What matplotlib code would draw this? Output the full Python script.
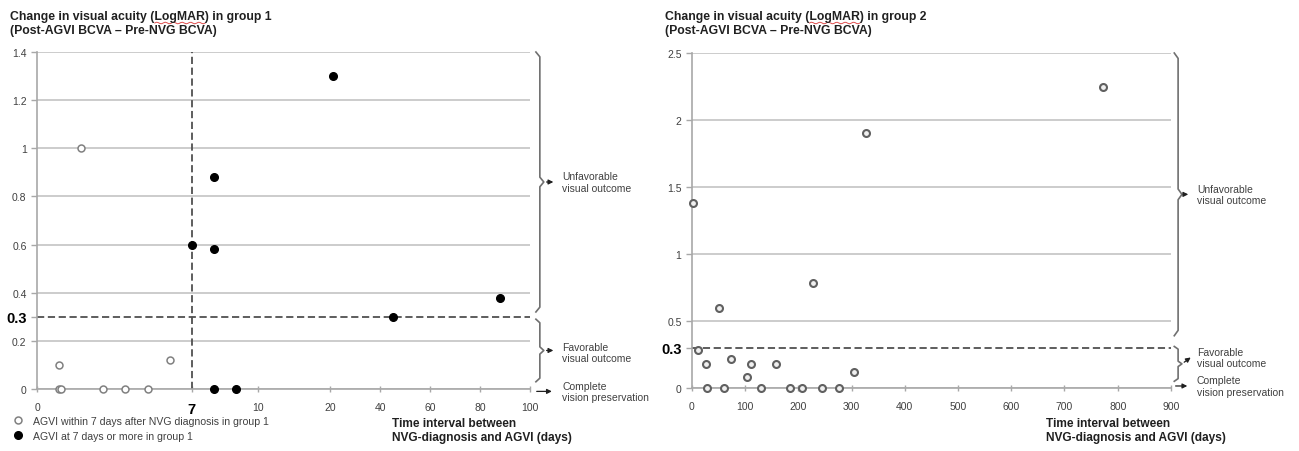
import numpy as np
import matplotlib.pyplot as plt
from matplotlib.transforms import blended_transform_factory

plt.rcParams['font.family'] = ['Liberation Sans', 'DejaVu Sans']

# group 1 (left panel): days from NVG diagnosis to AGVI, change in LogMAR
g1_early_days = [1, 1, 1.1, 2, 3, 4, 5, 6]
g1_early_va = [0.1, 0, 0, 1.0, 0, 0, 0, 0.12]
g1_late_days = [7, 8, 8, 8, 9, 21, 45, 88]
g1_late_va = [0.6, 0.88, 0.58, 0, 0, 1.3, 0.3, 0.38]

# group 2 (right panel)
g2_days = [2, 12, 26, 28, 51, 60, 73, 103, 110, 129, 157, 185, 207, 228, 245, 277, 305, 327, 773]
g2_va = [1.38, 0.28, 0.18, 0, 0.6, 0, 0.22, 0.08, 0.18, 0, 0.18, 0, 0, 0.78, 0, 0, 0.12, 1.9, 2.25]

g1_xticks = [0, 7, 10, 20, 40, 60, 80, 100]
g1_yticks = [0, 0.2, 0.3, 0.4, 0.6, 0.8, 1.0, 1.2, 1.4]
g1_ylabels = ['0', '0.2', '0.3', '0.4', '0.6', '0.8', '1', '1.2', '1.4']
g2_xticks = [0, 100, 200, 300, 400, 500, 600, 700, 800, 900]
g2_yticks = [0, 0.3, 0.5, 1.0, 1.5, 2.0, 2.5]
g2_ylabels = ['0', '0.3', '0.5', '1', '1.5', '2', '2.5']
cutoff = 0.3

# broken x axis of group 1: 0-10 wide, 10-20 squeezed, 20-100 compressed
x_break = [0, 10, 20, 100]
x_pos = [0, 10, 13.26, 22.31]
def fwd(v):
    return np.interp(v, x_break, x_pos)
def inv(v):
    return np.interp(v, x_pos, x_break)

GRID = '#c8c8c8'
TXT = '#404040'

fig = plt.figure(figsize=(12.99, 4.52), dpi=100)
ax1 = fig.add_axes([0.0285, 0.1372, 0.3795, 0.7455])
ax2 = fig.add_axes([0.5327, 0.1394, 0.3687, 0.7411])


def style(ax, yticks, ylabels):
    ax.set_yticks(yticks, ylabels)
    ax.grid(axis='y', color=GRID, lw=1.3)
    ax.set_axisbelow(True)
    for s in ['top', 'right']:
        ax.spines[s].set_visible(False)
    for s in ['left', 'bottom']:
        ax.spines[s].set_color('#a8a8a8')
        ax.spines[s].set_linewidth(1.2)
    ax.tick_params(colors='#a8a8a8', labelcolor=TXT, labelsize=7.5, length=4, width=1)
    ax.tick_params(axis='x', direction='inout', length=5, pad=7)
    # 0.3 label stands out, no gridline there
    i = yticks.index(cutoff)
    ax.get_ygridlines()[i].set_visible(False)
    lab = ax.get_yticklabels()[i]
    lab.set_fontweight('bold')
    lab.set_fontsize(10.5)
    lab.set_color('black')
    ax.axhline(cutoff, color='#505050', lw=1.3, ls=(0, (4, 2)), zorder=2)


def brace(ax, x, y0, y1, dy, text, tx, ty=None, arrow_to=None):
    tr = blended_transform_factory(ax.transAxes, ax.transData)
    ym = (y0 + y1) / 2
    w = 0.008
    xs = [x - w, x, x, x + w, x, x, x - w]
    ys = [y1, y1 - dy, ym + dy, ym, ym - dy, y0 + dy, y0]
    ax.plot(xs, ys, transform=tr, color='#707070', lw=1.2, clip_on=False)
    if arrow_to is None:
        arrow_to = (tx - 0.012, ym)
    ax.annotate('', xy=arrow_to, xytext=(x + w, ym), xycoords=tr, textcoords=tr,
                arrowprops=dict(arrowstyle='-|>', color='#202020', lw=0.9, mutation_scale=7))
    ax.text(tx, ym if ty is None else ty, text, transform=tr, ha='left', va='center',
            fontsize=7.5, color=TXT, linespacing=1.15)


def plain_arrow(ax, x0, x1, y, text, tx):
    tr = blended_transform_factory(ax.transAxes, ax.transData)
    ax.annotate('', xy=(x1, y), xytext=(x0, y), xycoords=tr, textcoords=tr,
                arrowprops=dict(arrowstyle='-|>', color='#202020', lw=0.9, mutation_scale=7))
    ax.text(tx, y, text, transform=tr, ha='left', va='center',
            fontsize=7.5, color=TXT, linespacing=1.15)


# ---- left panel
ax1.set_xscale('function', functions=(fwd, inv))
ax1.set_xlim(0, 100)
ax1.set_ylim(0, 1.4)
ax1.set_xticks(g1_xticks, [str(t) for t in g1_xticks])
ax1.minorticks_off()
style(ax1, g1_yticks, g1_ylabels)
l7 = ax1.get_xticklabels()[1]
l7.set_fontweight('bold')
l7.set_fontsize(10.5)
l7.set_color('black')
ax1.axvline(7, color='#505050', lw=1.3, ls=(0, (4, 2)), zorder=2)

h_early, = ax1.plot(g1_early_days, g1_early_va, 'o', ms=5, mfc='white', mec='#808080',
                    mew=1.1, clip_on=False, zorder=4)
h_late, = ax1.plot(g1_late_days, g1_late_va, 'o', ms=5.5, mfc='black', mec='black',
                   clip_on=False, zorder=4)

brace(ax1, 1.02, 0.32, 1.4, 0.02, 'Unfavorable\nvisual outcome', 1.065)
brace(ax1, 1.02, 0.03, 0.29, 0.015, 'Favorable\nvisual outcome', 1.065, ty=0.15)
plain_arrow(ax1, 1.008, 1.05, -0.01, 'Complete\nvision preservation', 1.065)

# ---- right panel
ax2.set_xlim(0, 900)
ax2.set_ylim(0, 2.5)
ax2.set_xticks(g2_xticks)
style(ax2, g2_yticks, g2_ylabels)
ax2.plot(g2_days, g2_va, 'o', ms=5, mfc='#f0f0f0', mec='#606060', mew=1.5,
         clip_on=False, zorder=4)

brace(ax2, 1.015, 0.39, 2.5, 0.04, 'Unfavorable\nvisual outcome', 1.054)
brace(ax2, 1.015, 0.05, 0.31, 0.02, 'Favorable\nvisual outcome', 1.054, ty=0.23,
      arrow_to=(1.046, 0.24))
plain_arrow(ax2, 1.004, 1.04, 0.015, 'Complete\nvision preservation', 1.054)

# ---- titles, axis captions, legend
title_kw = dict(ha='left', va='top', fontsize=8.8, fontweight='bold', color='#202020', linespacing=1.2)
renderer = fig.canvas.get_renderer()
for gx, grp in [(0.008, 1), (0.512, 2)]:
    fig.text(gx, 0.975, f'Change in visual acuity (LogMAR) in group {grp}\n'
             '(Post-AGVI BCVA \u2013 Pre-NVG BCVA)', **title_kw)
    # red spell-check squiggle under "LogMAR"
    pre = fig.text(0, 0, 'Change in visual acuity (', fontsize=8.8, fontweight='bold')
    word = fig.text(0, 0, 'LogMAR', fontsize=8.8, fontweight='bold')
    x0 = gx * 1299 + pre.get_window_extent(renderer).width
    wl = word.get_window_extent(renderer).width
    pre.remove()
    word.remove()
    xs = np.linspace(x0, x0 + wl, 30)
    ys = 452 - 24 + 0.8 * np.sin(np.linspace(0, 12 * np.pi, 30))
    fig.add_artist(plt.Line2D(xs / 1299, ys / 452, color='#e05050', lw=0.7))

fig.text(392 / 1299, 0.075, 'Time interval between\nNVG-diagnosis and AGVI (days)',
         ha='left', va='top', fontsize=8.6, fontweight='bold', color='#202020', linespacing=1.25)
fig.text(1046 / 1299, 0.075, 'Time interval between\nNVG-diagnosis and AGVI (days)',
         ha='left', va='top', fontsize=8.6, fontweight='bold', color='#202020', linespacing=1.25)

fig.legend([h_early, h_late],
           ['AGVI within 7 days after NVG diagnosis in group 1', 'AGVI at 7 days or more in group 1'],
           loc='upper left', bbox_to_anchor=(13 / 1299, 0.078), frameon=False, fontsize=7.6,
           handlelength=1, handletextpad=0.9, labelspacing=0.5, borderpad=0, borderaxespad=0,
           labelcolor=TXT)

fig.savefig('out.png', dpi=100)
